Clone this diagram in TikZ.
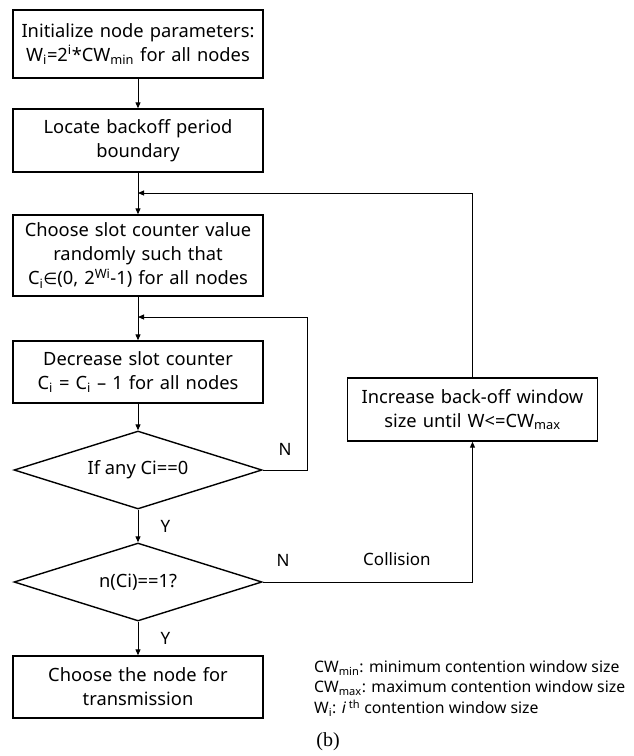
\documentclass[tikz,border=0pt]{standalone}
\usepackage{fontspec}
\setmainfont{Noto Sans}
\newfontfamily\symfont{DejaVu Sans}
\newfontfamily\capfont{Liberation Serif}
\usetikzlibrary{shapes.geometric,arrows.meta}

\begin{document}
\begin{tikzpicture}[x=1pt, y=-1pt, font=\fontsize{18.3}{24}\selectfont,
    every node/.append style={inner sep=2pt},
    stepbox/.style={draw, line width=1.4pt, align=center,
        minimum width=250pt, text width=244pt},
    decision/.style={draw, diamond, aspect=3.2, line width=1.4pt, align=center,
        minimum width=248pt, minimum height=78pt, inner sep=0pt},
    link/.style={line width=1pt, -{Triangle[length=6pt, width=5pt]}},
    tag/.style={font=\fontsize{17}{20}\selectfont},
    legend/.style={anchor=west, font=\fontsize{15.8}{20}\selectfont}
    ]
    \useasboundingbox (0,0) rectangle (633,756);
    % main column
    \node [stepbox, minimum height=68pt] (init) at (138,44)
        {Initialize node parameters:\\ W\textsubscript{i}=2\textsuperscript{i}*CW\textsubscript{min} for all nodes};
    \node [stepbox, minimum height=63pt] (locate) at (138,140.5)
        {Locate backoff period\\ boundary};
    \node [stepbox, minimum height=81pt] (choose) at (138,255.5)
        {Choose slot counter value\\ randomly such that\\ C\textsubscript{i}{\symfont\fontsize{16}{20}\selectfont∈}(0, 2\textsuperscript{Wi}-1) for all nodes};
    \node [stepbox, minimum height=62pt] (decrease) at (138,372)
        {Decrease slot counter\\ C\textsubscript{i} = C\textsubscript{i} – 1 for all nodes};
    \node [decision] (anyzero) at (138,470) {If any Ci==0};
    \node [decision] (single) at (138,582) {n(Ci)==1?};
    \node [stepbox, minimum height=62pt] (transmit) at (138,687)
        {Choose the node for\\ transmission};
    % right column
    \node [stepbox, minimum height=63pt] (increase) at (472.5,409.5)
        {Increase back-off window\\ size until W<=CW\textsubscript{max}};
    \coordinate (backoff) at (138,193);
    \coordinate (retry) at (138,317);
    \coordinate (loopright) at (307,470);

    \draw [link] (init) -- (locate);
    \draw [link] (locate) -- (choose);
    \draw [link] (choose) -- (decrease);
    \draw [link] (decrease) -- (anyzero);
    \draw [link] (anyzero) -- node [tag, right=20pt] {Y} (single);
    \draw [link] (single) -- node [tag, right=20pt] {Y} (transmit);
    \draw [link] (anyzero.east) -- (loopright) |- (retry);
    \draw [link] (single.east) -| (increase.south);
    \draw [link] (increase.north) |- (backoff);

    \node [tag] (nloop) at (285,449) {N};
    \node [tag] (ncoll) at (283,560) {N};
    \node [tag] (collision) at (397,559) {Collision};

    % legend
    \node [legend] (lgmin) at (312,668) {CW\textsubscript{min}: minimum contention window size};
    \node [legend] (lgmax) at (312,688) {CW\textsubscript{max}: maximum contention window size};
    \node [legend] (lgwi) at (312,708) {W\textsubscript{i}: \textit{i}\,\textsuperscript{th} contention window size};
    \node [font=\capfont\fontsize{20}{22}\selectfont] (caption) at (328,742) {(b)};
\end{tikzpicture}
\end{document}
